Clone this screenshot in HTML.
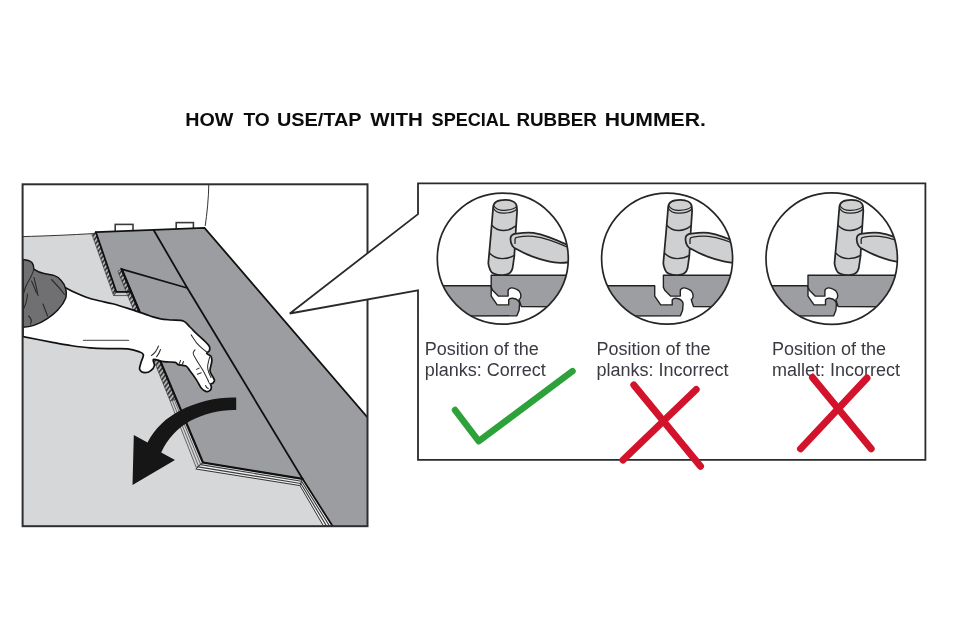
<!DOCTYPE html>
<html>
<head>
<meta charset="utf-8">
<title>How to use/tap with special rubber hummer</title>
<style>
html,body{margin:0;padding:0;background:#fff;}
body{width:960px;height:640px;overflow:hidden;position:relative;font-family:"Liberation Sans",sans-serif;}
svg{position:absolute;left:0;top:0;display:block;}
text{font-family:"Liberation Sans",sans-serif;}
</style>
</head>
<body>
<svg width="960" height="640" viewBox="0 0 960 640">
<defs>
  <filter id="soft" x="0" y="0" width="100%" height="100%" filterUnits="userSpaceOnUse" color-interpolation-filters="sRGB"><feGaussianBlur stdDeviation="0.45"/></filter>
  <pattern id="hatch" width="3.4" height="3.4" patternUnits="userSpaceOnUse" patternTransform="rotate(-52)">
    <rect width="3.4" height="3.4" fill="#bcbcbe"/>
    <rect width="3.4" height="1.8" fill="#3a3a3c"/>
  </pattern>
  <clipPath id="frameclip"><rect x="23" y="184.5" width="344" height="341.5"/></clipPath>
  <clipPath id="c1"><circle cx="502.8" cy="258.6" r="65.5"/></clipPath>
  <clipPath id="c2"><circle cx="667.1" cy="258.6" r="65.5"/></clipPath>
  <clipPath id="c3"><circle cx="831.7" cy="258.6" r="65.7"/></clipPath>

  <!-- mallet drawn in circle-1 coordinates -->
  <g id="mallet" stroke="#262626" stroke-width="1.75" stroke-linejoin="round" stroke-linecap="round">
    <!-- head -->
    <path d="M493.2 206.9 C493.5 202.5 498 199.8 505.2 199.8 C512 199.8 516.6 202.5 516.8 206.9 L517.1 211.1 L515.7 232.2 L514.3 256.1 L512.6 268 C511.5 273 507 275.1 502.3 275.1 C496 275.1 491.5 274 490.2 270 C489 267.5 488.3 265.5 488.3 263.1 L491.1 232.2 Z" fill="#cfd0d1"/>
    <path d="M493.2 208 C495.5 212 500 213.4 504.5 213.2 C509.5 213 514 211.8 516.7 209.2" fill="none" stroke-width="1.2"/>
    <path d="M493.6 205.6 C496 209.4 500 210.6 504.5 210.4 C509.5 210.1 514 209.1 516.6 206.6" fill="none" stroke-width="1.1"/>
    <path d="M491.8 225.2 C495 228.8 499 230.5 503.8 230.5 C508.5 230.4 512.5 228.6 515.9 225.9" fill="none" stroke-width="1.4"/>
    <path d="M489.7 253.3 C493 256.8 497.5 258.6 502.3 258.6 C507 258.6 511 257.4 514.4 255.4" fill="none" stroke-width="1.4"/>
    <!-- handle -->
    <path d="M516.4 233.6 C512 233.8 510.3 236 510.5 239.5 C510.7 244.5 513 247.5 516.4 249.1 C522 252.5 528 255 533.3 256.8 C541 259.5 548 261.5 554.4 262.4 C560 263.2 566 262.8 575 261.5 L575 246.5 C571 245.8 568.5 245 565.6 244.1 C560 241.5 554 239 548.8 237.1 C543 235 538 233.6 533.3 232.9 C527 232.3 521 233 516.4 233.6 Z" fill="#cfd0d1"/>
    <path d="M515 243.4 L515 239.2 C515.2 237.8 516 237.3 517.8 237.1 C523 236.2 528 236 533.3 236.4 C538.5 237 544 238.3 548.8 239.9 C555 242 560 244 565.6 246.3 L575 249" fill="none" stroke-width="1.3"/>
  </g>

  <!-- joined planks (circle-1 coordinates) -->
  <g id="plankL" stroke="#222" stroke-width="1.4" stroke-linejoin="round">
    <path d="M400 285.7 L491.2 285.7 L491.2 296.1 L497.2 304.9 L508.7 304.9 L508.7 299.9 C509.5 298.6 511 298.2 512.5 298.3 C515 298.5 517 299.3 518 300.5 C519 301.5 519.6 302.5 519.6 303.8 L519.1 310.3 L516.9 315.8 L400 316.3 Z" fill="#9d9ea1"/>
  </g>
  <g id="plankR" stroke="#222" stroke-width="1.4" stroke-linejoin="round">
    <path d="M491.2 275.3 L600 275.3 L600 307 L521.3 306.5 L519.6 301.6 L519.1 299.4 C520.3 298.8 520.7 298 520.7 297.2 C521 295.5 520.8 294 520.2 292.8 C519.5 291 518.3 290 516.9 289.5 C515 288.3 513 287.8 511.4 287.9 C509.5 288.3 508.3 289.3 508.1 290.6 L508.1 296.1 L498.3 296.1 L492.8 290.6 L491.2 287.4 Z" fill="#9d9ea1"/>
  </g>
</defs>

<g filter="url(#soft)">
<rect x="0" y="0" width="960" height="640" fill="#ffffff"/>

<!-- ============ LEFT ILLUSTRATION ============ -->
<g id="left" clip-path="url(#frameclip)">
  <!-- floor -->
  <path d="M23 236.5 L60 235.6 L95.9 233.6 L204.5 227.8 L367 417 L367 526 L23 526 Z" fill="#d6d7d9"/>
  <!-- horizon line -->
  <path d="M23 236.6 C45 236 70 235 95.9 233.4" fill="none" stroke="#333" stroke-width="1"/>
  <!-- wall corner -->
  <path d="M208.8 184 C208.6 198 207 214 205.2 226" fill="none" stroke="#333" stroke-width="1"/>
  <!-- spacers -->
  <rect x="115.2" y="224.4" width="17.8" height="8" fill="#fff" stroke="#3a3a3a" stroke-width="1.6"/>
  <rect x="176.2" y="222.6" width="17.2" height="7" fill="#fff" stroke="#3a3a3a" stroke-width="1.6"/>
  <!-- planks -->
  <path d="M95.9 232.2 L204.5 227.8 L367 417 L367 526 L332.5 526 L302.5 478.8 L202.9 462.5 L121.7 269.2 L131.2 291.9 L116.25 291.9 Z" fill="#9c9da0"/>
  <!-- hatch edge bands -->
  <path d="M95.9 232.2 L116.25 291.9 L113.5 295.6 L91.8 234 Z" fill="url(#hatch)" stroke="#333" stroke-width="0.6"/>
  <path d="M116.25 291.9 L131.2 291.9 L129.5 295.6 L113.9 295.6 Z" fill="#c9cacc" stroke="#333" stroke-width="0.8"/>
  <path d="M121.7 269.2 L176.3 399 L170.2 401.2 L117.9 271.2 Z" fill="url(#hatch)" stroke="#333" stroke-width="0.6"/>
  <path d="M176.3 399 L202.9 462.5 L196.2 467.4 L170.2 401.2 Z" fill="#d4d4d6" stroke="#333" stroke-width="0.7"/>
  <path d="M174.3 399.8 L200.6 464.2 M172.3 400.5 L198.4 465.8" fill="none" stroke="#4a4a4c" stroke-width="0.8"/>
  <!-- plank 2 bottom edge band -->
  <path d="M202.9 462.5 L302.5 478.8 L300 485.6 L195.8 469 Z" fill="#f0f0f1" stroke="#333" stroke-width="1"/>
  <path d="M200.6 464.6 L301.6 481.2 M198.2 466.9 L300.8 483.5" fill="none" stroke="#3c3c3c" stroke-width="1.15"/>
  <!-- plank 3 lower-left edge band -->
  <path d="M302.5 478.8 L332.5 526 L323.5 526 L300 485.6 Z" fill="#f0f0f1" stroke="#333" stroke-width="1"/>
  <path d="M301.6 481.2 L329.5 526 M300.8 483.5 L326.5 526" fill="none" stroke="#3c3c3c" stroke-width="1.15"/>
  <!-- plank outlines -->
  <g fill="none" stroke="#111" stroke-width="1.8" stroke-linejoin="miter" stroke-linecap="round">
    <path d="M95.9 232.2 L204.5 227.8 L367.5 417.5"/>
    <path d="M95.9 232.2 L116.25 291.9 L131.2 291.9"/>
    <path d="M138.9 310.6 L121.7 269.2 L187.3 288"/>
    <path d="M121.7 269.2 L202.9 462.5 L302.5 478.8" stroke-width="2.2"/>
    <path d="M153.75 230.2 L187.3 288 L302.5 478.8 L332.5 526"/>
  </g>
  <!-- arrow -->
  <path d="M236.2 397.5 L236.2 410 C222 409.5 205 413 190 421 C177 428.5 168 438 161.2 452.5 L175 460 L132.5 485 L133.8 435 L147.5 442.5 C155 428 166 418 180 410.5 C197 401.5 218 397 236.2 397.5 Z" fill="#161616"/>
  <!-- arm -->
  <path d="M23 336.6 L23 310 L58 300 L65.7 287.8 C67.2 288.6 71.6 291.0 75.0 292.6 C78.4 294.2 82.3 295.8 86.3 297.2 C90.3 298.6 94.6 299.7 99.0 300.8 C103.4 301.9 107.8 302.5 112.6 303.8 C117.4 305.1 122.6 306.7 128.0 308.4 C133.4 310.1 140.8 312.7 145.0 314.1 C149.2 315.5 150.4 316.1 153.0 316.9 C155.6 317.7 157.6 318.2 160.6 318.8 C163.6 319.3 167.2 319.6 171.0 320.0 C174.8 320.4 180.2 319.8 183.3 321.0 C186.5 322.2 187.7 324.9 189.9 327.0 C192.1 329.1 194.4 331.5 196.6 333.6 C198.8 335.7 201.1 337.5 203.2 339.6 C205.3 341.7 208.2 344.4 209.2 346.2 C210.2 348.0 209.8 349.4 209.4 350.6 C209.0 351.8 206.5 352.4 206.8 353.4 C207.1 354.4 210.2 355.0 211.0 356.4 C211.8 357.8 212.0 359.1 211.8 361.5 C211.6 363.9 209.8 368.2 210.0 370.8 C210.2 373.4 212.4 375.8 213.2 377.4 C213.9 379.0 214.6 379.7 214.5 380.7 C214.4 381.7 213.3 382.7 212.7 383.3 C212.0 383.9 210.8 383.5 210.6 384.2 C210.4 384.9 211.5 386.3 211.4 387.4 C211.3 388.5 210.7 390.0 209.8 390.7 C208.9 391.4 207.3 391.8 205.9 391.4 C204.5 390.9 202.8 389.9 201.2 388.0 C199.6 386.1 198.5 383.0 196.6 380.1 C194.7 377.2 191.7 373.1 189.9 370.8 C188.1 368.5 187.9 367.1 185.9 366.1 C183.9 365.1 179.8 365.2 178.0 364.6 C176.2 364.0 177.7 362.8 175.3 362.3 C172.9 361.8 167.4 362.2 163.8 361.7 C160.1 361.2 155.2 358.8 153.6 359.4 C152.0 360.0 154.8 363.8 154.4 365.6 C154.0 367.4 152.8 369.1 151.2 370.3 C149.7 371.5 146.9 372.8 145.0 372.7 C143.1 372.6 140.4 371.2 139.7 369.5 C139.0 367.8 140.4 365.0 141.0 362.5 C141.6 360.0 143.8 356.5 143.4 354.7 C143.0 352.9 141.4 352.6 138.8 351.6 C136.2 350.6 132.7 349.3 127.6 348.8 C122.5 348.3 114.3 348.8 108.0 348.6 C101.7 348.5 96.3 348.4 90.0 347.9 C83.7 347.4 76.2 346.3 70.0 345.4 C63.8 344.5 60.3 343.8 52.5 342.3 C44.7 340.8 27.9 337.6 23.0 336.6 Z" fill="#fff" stroke="#111" stroke-width="1.7" stroke-linejoin="round"/>
  <!-- hand details -->
  <g fill="none" stroke="#2e2e2e" stroke-width="1.05" stroke-linecap="round" stroke-linejoin="round">
    <path d="M83.5 340.4 L128.5 340.4" stroke="#666" stroke-width="1.4"/>
    <path d="M158.5 346 C157 350 154.5 353.5 151.5 355.5"/>
    <path d="M160.5 349.5 C159.5 352.5 158 355 156.5 356.8"/>
    <path d="M191.2 334.9 C192.1 336.2 194.8 340.7 196.6 342.9 C198.4 345.1 200.1 346.6 201.9 348.2 C203.7 349.8 206.3 351.7 207.2 352.4"/>
    <path d="M195.0 349.8 C194.7 350.4 192.9 351.8 193.2 353.5 C193.5 355.2 194.9 357.3 196.6 360.2 C198.3 363.1 201.2 367.3 203.2 370.8 C205.2 374.3 207.6 379.6 208.5 381.4"/>
    <path d="M209.8 356.8 C209.6 357.6 208.9 359.8 208.5 361.5 C208.1 363.2 207.6 365.2 207.6 367.0 C207.6 368.8 208.0 370.2 208.6 372.0 C209.2 373.8 210.6 376.6 211.0 377.5"/>
    <path d="M196.6 369.4 L199.2 368.1"/>
    <path d="M197.4 374.2 L201.2 372.8"/>
    <path d="M183.5 361.5 C183 363 182.5 364 182 365"/>
    <path d="M180.5 360.5 C180 362 179.6 363 179 364"/>
    <path d="M208.3 381 C208.6 382.4 209.3 383.6 210.5 384.2"/>
    <path d="M205.6 385.5 C206 387 207 388.2 208.3 388.6"/>
  </g>
  <!-- sleeve -->
  <path d="M23 259.6 C27 260 30 261 31.9 262.5 C33.5 264.5 33.8 267 33.8 269.1 C37 271.5 41 273 45 273.8 C48.5 274.6 51.5 274.6 54.4 275.6 C57.5 276.5 59.5 278 61 280.3 C63.5 283 65 286 65.7 288.8 C66.5 292 66.4 295.5 65.7 298.2 C64 302.5 61.5 306 58.2 309.4 C55 313 51 316 46.9 318.8 C43 321.5 38.5 323.8 33.8 325.4 C30.5 326.4 27 327 23 327.2 Z" fill="#707073" stroke="#151515" stroke-width="1.5" stroke-linejoin="round"/>
  <g fill="none" stroke="#2a2a2a" stroke-width="1.1" stroke-linecap="round">
    <path d="M33.8 269 C33 273 31 277 28.5 281 C26 285 24.5 289 23.5 294"/>
    <path d="M34 277.5 C35 282 36.5 287 38 295.5"/>
    <path d="M31.5 281 C33.5 285 35 289 36.5 293"/>
    <path d="M51.5 279.5 C56 284 60.5 289 64.5 294.5"/>
    <path d="M43 304 C44.5 308 46 312 47.5 316"/>
    <path d="M27.5 294 C27 300 26 304 24 308"/>
    <path d="M28.5 316 C31 318 32 321 30.5 324"/>
  </g>
</g>
<rect x="22.6" y="184.3" width="344.9" height="341.9" fill="none" stroke="#2e2e2e" stroke-width="2"/>

<!-- ============ CALLOUT ============ -->
<path id="callout" d="M418 183.3 L925.4 183.3 L925.4 459.9 L418 459.9 L418 290.4 L289.8 313.5 L418 214.1 Z" fill="#fff" stroke="#2a2a2a" stroke-width="1.8" stroke-linejoin="miter"/>

<!-- ============ CIRCLES ============ -->
<g id="circ1">
  <g clip-path="url(#c1)">
    <use href="#plankL"/>
    <use href="#plankR"/>
    <use href="#mallet"/>
  </g>
  <circle cx="502.8" cy="258.6" r="65.5" fill="none" stroke="#262626" stroke-width="1.7"/>
</g>
<g id="circ2">
  <g clip-path="url(#c2)">
    <use href="#plankL" transform="translate(163.5 0)"/>
    <use href="#plankR" transform="translate(172.2 0)"/>
    <use href="#mallet" transform="translate(175 0)"/>
  </g>
  <circle cx="667.1" cy="258.6" r="65.5" fill="none" stroke="#262626" stroke-width="1.7"/>
</g>
<g id="circ3">
  <g clip-path="url(#c3)">
    <use href="#plankL" transform="translate(316.8 0)"/>
    <use href="#plankR" transform="translate(316.8 0)"/>
    <use href="#mallet" transform="translate(346.2 0)"/>
  </g>
  <circle cx="831.7" cy="258.6" r="65.7" fill="none" stroke="#262626" stroke-width="1.7"/>
</g>

<!-- ============ LABELS ============ -->
<g id="labels" font-size="18" fill="#3a3a42">
  <text x="424.8" y="355.3">Position of the</text>
  <text x="424.8" y="376">planks: Correct</text>
  <text x="596.5" y="355.3">Position of the</text>
  <text x="596.5" y="376">planks: Incorrect</text>
  <text x="772" y="355.3">Position of the</text>
  <text x="772" y="376">mallet: Incorrect</text>
</g>

<!-- ============ MARKS ============ -->
<path d="M455 410 L478.8 441.2 L572.5 371.2" fill="none" stroke="#2da23a" stroke-width="6.5" stroke-linecap="round" stroke-linejoin="round"/>
<g stroke="#d3122c" stroke-width="7" stroke-linecap="round" fill="none">
  <path d="M633.8 385 L700.5 466.2"/>
  <path d="M696.2 389.5 L623 460"/>
  <path d="M812.5 377.5 L871.2 448.8"/>
  <path d="M867 378 L800.5 448.8"/>
</g>

<!-- title -->
<g id="title" font-size="19" font-weight="bold" fill="#0c0c0c">
  <text x="185.2" y="125.7" textLength="48.1" lengthAdjust="spacingAndGlyphs">HOW</text>
  <text x="243.5" y="125.7" textLength="26.3" lengthAdjust="spacingAndGlyphs">TO</text>
  <text x="277" y="125.7" textLength="84.6" lengthAdjust="spacingAndGlyphs">USE/TAP</text>
  <text x="370.3" y="125.7" textLength="52.5" lengthAdjust="spacingAndGlyphs">WITH</text>
  <text x="431.6" y="125.7" textLength="78.4" lengthAdjust="spacingAndGlyphs">SPECIAL</text>
  <text x="516.4" y="125.7" textLength="80.5" lengthAdjust="spacingAndGlyphs">RUBBER</text>
  <text x="604.7" y="125.7" textLength="101.2" lengthAdjust="spacingAndGlyphs">HUMMER.</text>
</g>
</g>
</svg>
</body>
</html>
